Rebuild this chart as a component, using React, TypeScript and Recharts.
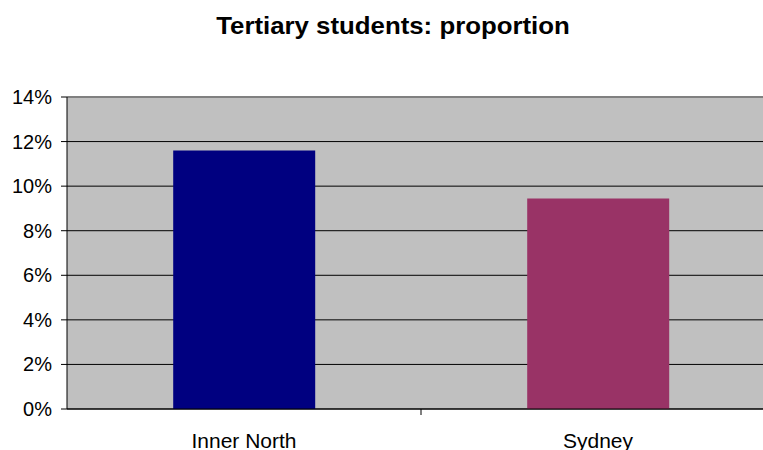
import { BarChart, Bar, XAxis, YAxis, CartesianGrid, Cell, ReferenceLine } from "recharts";

const regions = ["Inner North", "Sydney"];
const proportion = [11.6, 9.45];
const barColors = ["#000080", "#993366"];
const yTicks = [0, 2, 4, 6, 8, 10, 12, 14];

const data = regions.map((name, i) => ({ name, value: proportion[i] }));

const FONT = "'Liberation Sans', Arial, sans-serif";
const X_MARGIN = 33;

// slight sideways stretch, the source text is a bit wider than Arial
const stretch = (x: number, y: number, k: number) =>
  `translate(${x} ${y}) scale(${k} 1) translate(${-x} ${-y})`;

const YTick = (props: any) => {
  const { x, y, payload } = props;
  return (
    <text x={x} y={y} textAnchor="end" dominantBaseline="central" fontSize={20} fontFamily={FONT} fill="#000">
      {`${payload.value}%`}
    </text>
  );
};

const XTick = (props: any) => {
  const { x, y, payload } = props;
  const half = payload.offset || 0;
  const axisY = y - X_MARGIN - 6;
  return (
    <g>
      <line x1={x + half} x2={x + half} y1={axisY} y2={axisY + 6} stroke="#000" />
      <text x={x} y={y} textAnchor="middle" fontSize={20} fontFamily={FONT} fill="#000" transform={stretch(x, y, 1.05)}>
        {payload.value}
      </text>
    </g>
  );
};

const App = () => {
  return (
    <div style={{ position: "absolute", top: 0, left: 0, width: 763, height: 450, overflow: "hidden", background: "#fff" }}>
      <div style={{ position: "relative", width: 780, height: 450 }}>
        <div
          style={{
            position: "absolute",
            top: 14,
            left: 0,
            width: 786,
            textAlign: "center",
            fontFamily: FONT,
            fontWeight: "bold",
            fontSize: 24,
            lineHeight: "24px",
            transform: "scaleX(1.075)",
            transformOrigin: "393px 0",
          }}
        >
          Tertiary students: proportion
        </div>
        <BarChart width={780} height={450} data={data} margin={{ top: 97, right: 5, left: 0, bottom: 0 }} barCategoryGap="30%">
          <CartesianGrid vertical={false} stroke="#000" fill="#c0c0c0" fillOpacity={1} />
          <XAxis
            dataKey="name"
            height={41}
            axisLine={{ stroke: "#000" }}
            tickLine={false}
            tickSize={6}
            tickMargin={X_MARGIN}
            tick={<XTick />}
            interval={0}
          />
          <YAxis
            width={67}
            domain={[0, 14]}
            ticks={yTicks}
            interval={0}
            axisLine={{ stroke: "#000" }}
            tickLine={{ stroke: "#000" }}
            tickSize={6}
            tickMargin={9}
            tick={<YTick />}
          />
          <ReferenceLine y={14} stroke="#808080" strokeWidth={2} />
          <Bar dataKey="value" isAnimationActive={false}>
            {data.map((d, i) => (
              <Cell key={d.name} fill={barColors[i]} />
            ))}
          </Bar>
        </BarChart>
      </div>
    </div>
  );
};

export default App;
